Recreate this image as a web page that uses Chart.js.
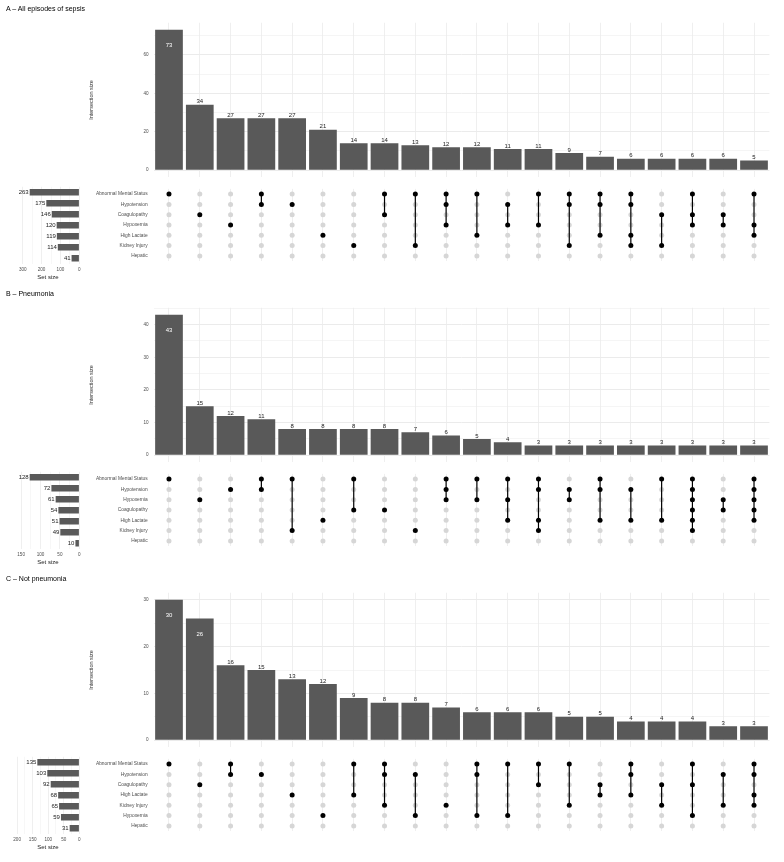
<!DOCTYPE html>
<html>
<head>
<meta charset="utf-8">
<script src="https://cdn.jsdelivr.net/npm/chart.js@4.4.0/dist/chart.umd.min.js"></script>
<style>
  body { margin: 0; background: #fff; }
  #page { position: relative; width: 784px; height: 862px; font-family: "Liberation Sans", Arial, sans-serif; }
  .box { position: absolute; }
  .title { position: absolute; left: 6px; font-size: 7px; line-height: 8px; color: #000; white-space: nowrap; will-change: transform; }
</style>
</head>
<body>
<div id="page"></div>
<script>
// A - All episodes of sepsis
const titleA = 'A \u2013 All episodes of sepsis';
const setsA = ['Abnormal Mental Status', 'Hypotension', 'Coagulopathy', 'Hypoxemia', 'High Lactate', 'Kidney Injury', 'Hepatic'];
const setSizesA = [263, 175, 146, 120, 119, 114, 41];
const sizesA = [73, 34, 27, 27, 27, 21, 14, 14, 13, 12, 12, 11, 11, 9, 7, 6, 6, 6, 6, 5];
const membersA = [[0], [2], [3], [0, 1], [1], [4], [5], [0, 2], [0, 5], [0, 1, 3], [0, 4], [1, 3], [0, 3], [0, 1, 5], [0, 1, 4], [0, 1, 4, 5], [2, 5], [0, 2, 3], [2, 3], [0, 3, 4]];
const yTicksA = [0, 20, 40, 60];
const yMinorA = [10, 30, 50, 70];
const setTicksA = [0, 100, 200, 300];
const setMinorA = [50, 150, 250];

// B - Pneumonia
const titleB = 'B \u2013 Pneumonia';
const setsB = ['Abnormal Mental Status', 'Hypotension', 'Hypoxemia', 'Coagulopathy', 'High Lactate', 'Kidney Injury', 'Hepatic'];
const setSizesB = [128, 72, 61, 54, 51, 49, 10];
const sizesB = [43, 15, 12, 11, 8, 8, 8, 8, 7, 6, 5, 4, 3, 3, 3, 3, 3, 3, 3, 3];
const membersB = [[0], [2], [1], [0, 1], [0, 5], [4], [0, 3], [3], [5], [0, 1, 2], [0, 2], [0, 2, 4], [0, 1, 4, 5], [1, 2], [0, 1, 4], [1, 4], [0, 4], [0, 1, 2, 3, 4, 5], [2, 3], [0, 1, 2, 3, 4]];
const yTicksB = [0, 10, 20, 30, 40];
const yMinorB = [5, 15, 25, 35, 45];
const setTicksB = [0, 50, 100, 150];
const setMinorB = [25, 75, 125];

// C - Not pneumonia
const titleC = 'C \u2013 Not pneumonia';
const setsC = ['Abnormal Mental Status', 'Hypotension', 'Coagulopathy', 'High Lactate', 'Kidney Injury', 'Hypoxemia', 'Hepatic'];
const setSizesC = [135, 103, 92, 68, 65, 59, 31];
const sizesC = [30, 26, 16, 15, 13, 12, 9, 8, 8, 7, 6, 6, 6, 5, 5, 4, 4, 4, 3, 3];
const membersC = [[0], [2], [0, 1], [1], [3], [5], [0, 3], [0, 1, 4], [1, 5], [4], [0, 1, 5], [0, 5], [0, 2], [0, 4], [2, 3], [0, 1, 3], [2, 4], [0, 2, 5], [1, 4], [0, 1, 3, 4]];
const yTicksC = [0, 10, 20, 30];
const yMinorC = [5, 15, 25];
const setTicksC = [0, 50, 100, 150, 200];
const setMinorC = [25, 75, 125, 175];

const FONT = '"Liberation Sans", Arial, sans-serif';
Chart.defaults.font.family = FONT;
Chart.defaults.animation = false;
Chart.defaults.events = [];
Chart.defaults.plugins.legend.display = false;
Chart.defaults.plugins.tooltip.enabled = false;

const BAR = '#595959', GRID = '#ebebeb', TICK = '#4d4d4d', DOT_OFF = '#d6d6d6';
const LEFT = 153.6, RIGHT = 769.4;

function addCanvas(left, top, w, h) {
  const div = document.createElement('div');
  div.className = 'box';
  div.style.left = left + 'px';
  div.style.top = top + 'px';
  const c = document.createElement('canvas');
  c.width = w;
  c.height = h;
  div.appendChild(c);
  document.getElementById('page').appendChild(div);
  return c;
}

// numbers on the intersection bars
const sizeLabels = {
  id: 'sizeLabels',
  afterDatasetsDraw(chart) {
    const ctx = chart.ctx;
    const data = chart.data.datasets[0].data;
    const top = Math.max(...data);
    ctx.save();
    ctx.font = '6px ' + FONT;
    ctx.textAlign = 'center';
    ctx.textBaseline = 'middle';
    chart.getDatasetMeta(0).data.forEach((bar, i) => {
      const inside = data[i] >= 0.85 * top;
      ctx.fillStyle = inside ? '#fff' : '#222';
      ctx.fillText(data[i], bar.x, inside ? bar.y + 16 : bar.y - 3);
    });
    ctx.restore();
  }
};

// numbers left of the set size bars
const setLabels = {
  id: 'setLabels',
  afterDatasetsDraw(chart) {
    const ctx = chart.ctx;
    const data = chart.data.datasets[0].data;
    ctx.save();
    ctx.font = '6px ' + FONT;
    ctx.textAlign = 'right';
    ctx.textBaseline = 'middle';
    ctx.fillStyle = '#222';
    chart.getDatasetMeta(0).data.forEach((bar, i) => {
      ctx.fillText(data[i], bar.x - 1, bar.y);
    });
    ctx.restore();
  }
};

function upperChart(o, sizes, major, minor) {
  const top = Math.max(...sizes);
  const cv = addCanvas(88, o + 15, 696, 170);
  new Chart(cv, {
    type: 'bar',
    data: {
      labels: sizes.map((_, i) => 'I' + (i + 1)),
      datasets: [{ data: sizes, backgroundColor: BAR, barPercentage: 0.9, categoryPercentage: 1 }]
    },
    options: {
      responsive: false,
      layout: { padding: { top: 6.5, right: 784 - RIGHT, bottom: 7, left: 0 } },
      scales: {
        x: {
          grid: { color: GRID, offset: false, drawTicks: false, lineWidth: 0.8 },
          border: { display: false },
          ticks: { display: false },
          afterFit: s => { s.height = 0; }
        },
        y: {
          min: -0.05 * top,
          max: 1.05 * top,
          border: { display: false },
          grid: { color: GRID, drawTicks: false, lineWidth: c => major.includes(c.tick.value) ? 1 : 0.5 },
          ticks: {
            color: TICK, font: { size: 4.6 }, padding: 5, autoSkip: false,
            callback: v => major.includes(v) ? v : ''
          },
          title: { display: true, text: 'Intersection size', color: '#333', font: { size: 5.5 }, padding: 0 },
          afterBuildTicks: s => { s.ticks = major.concat(minor).sort((a, b) => a - b).map(v => ({ value: v })); },
          afterFit: s => { s.width = LEFT - 88; }
        }
      }
    },
    plugins: [sizeLabels]
  });
}

function matrixChart(o, sets, sizes, members) {
  const cv = addCanvas(0, o + 180, 784, 90);
  const on = [], off = [], lines = [];
  members.forEach((m, i) => {
    sets.forEach((s, j) => (m.includes(j) ? on : off).push({ x: i, y: s }));
    if (m.length > 1) {
      lines.push({
        data: [{ x: i, y: sets[Math.min(...m)] }, { x: i, y: sets[Math.max(...m)] }],
        showLine: true, borderColor: '#000', borderWidth: 1.2, pointRadius: 0, order: 1
      });
    }
  });
  new Chart(cv, {
    type: 'scatter',
    data: {
      datasets: [
        { data: on, backgroundColor: '#000', pointRadius: 2.5, pointBorderWidth: 0, order: 0 },
        ...lines,
        { data: off, backgroundColor: DOT_OFF, pointRadius: 2.5, pointBorderWidth: 0, order: 2 }
      ]
    },
    options: {
      responsive: false,
      layout: { padding: { top: 6.8, right: 784 - RIGHT, bottom: 6.2, left: 0 } },
      scales: {
        x: {
          type: 'linear', min: -0.5, max: sizes.length - 0.5,
          grid: { color: GRID, drawTicks: false, lineWidth: 0.8 },
          border: { display: false },
          ticks: { display: false },
          afterBuildTicks: s => { s.ticks = sizes.map((_, i) => ({ value: i })); },
          afterFit: s => { s.height = 0; }
        },
        y: {
          type: 'category', labels: sets, offset: true,
          grid: { display: false, drawTicks: false },
          border: { display: false },
          ticks: { color: TICK, font: { size: 4.85 }, padding: 6, autoSkip: false },
          afterFit: s => { s.width = LEFT; }
        }
      }
    }
  });
}

function setChart(o, sets, setSizes, major, minor, max) {
  const cv = addCanvas(0, o + 180, 90, 105);
  new Chart(cv, {
    type: 'bar',
    data: {
      labels: sets,
      datasets: [{ data: setSizes, backgroundColor: BAR, barPercentage: 0.6, categoryPercentage: 1 }]
    },
    options: {
      responsive: false,
      indexAxis: 'y',
      layout: { padding: { left: 16.5, right: 90 - 79.3, top: 6.8, bottom: 0 } },
      scales: {
        x: {
          reverse: true, min: 0, max: max,
          border: { display: false },
          grid: { color: GRID, drawTicks: false, lineWidth: c => major.includes(c.tick.value) ? 0.8 : 0.4 },
          ticks: {
            color: TICK, font: { size: 4.6 }, padding: 3, autoSkip: false, maxRotation: 0,
            callback: v => major.includes(v) ? v : ''
          },
          title: { display: true, text: 'Set size', color: '#222', font: { size: 6 }, padding: { top: 0, bottom: 4.4 } },
          afterBuildTicks: s => { s.ticks = major.concat(minor).sort((a, b) => a - b).map(v => ({ value: v })); },
          afterFit: s => { s.height = 105 - 83.8; }
        },
        y: { display: false }
      }
    },
    plugins: [setLabels]
  });
}

function addTitle(o, text) {
  const d = document.createElement('div');
  d.className = 'title';
  d.style.top = (o + 5) + 'px';
  d.textContent = text;
  document.getElementById('page').appendChild(d);
}

function panel(o, title, sets, setSizes, sizes, members, yMajor, yMinor, sMajor, sMinor, sMax) {
  addTitle(o, title);
  upperChart(o, sizes, yMajor, yMinor);
  matrixChart(o, sets, sizes, members);
  setChart(o, sets, setSizes, sMajor, sMinor, sMax);
}

panel(0, titleA, setsA, setSizesA, sizesA, membersA, yTicksA, yMinorA, setTicksA, setMinorA, 333);
panel(285, titleB, setsB, setSizesB, sizesB, membersB, yTicksB, yMinorB, setTicksB, setMinorB, 162);
panel(570, titleC, setsC, setSizesC, sizesC, membersC, yTicksC, yMinorC, setTicksC, setMinorC, 202);
</script>
</body>
</html>
